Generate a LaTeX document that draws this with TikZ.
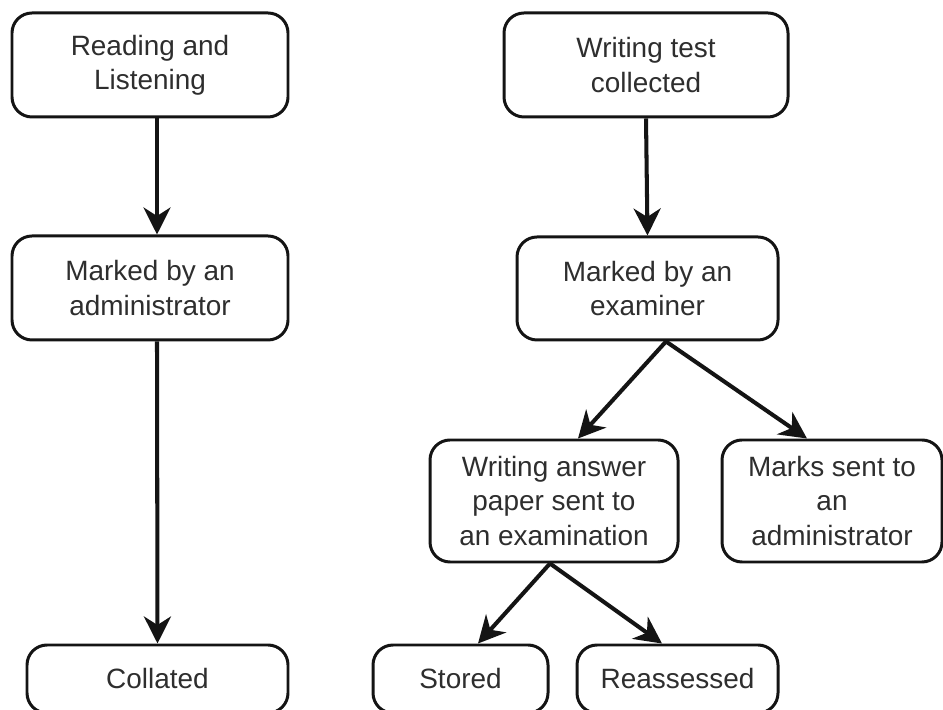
\documentclass[tikz,border=0pt]{standalone}
\usepackage{fontspec}
\setmainfont{Liberation Sans}
\usetikzlibrary{arrows.meta}
\definecolor{ink}{HTML}{141414}
\definecolor{label}{HTML}{2E2E2E}

\begin{document}
\begin{tikzpicture}[font=\fontsize{15.9}{19.4}\selectfont,
  box/.style={draw=ink,line width=1.7pt,rounded corners=0.4cm,fill=white,
    align=center,text=label,inner sep=0pt},
  flow/.style={draw=ink,line width=2.3pt,
    -{Stealth[length=0.54cm,width=0.54cm,inset=0.17cm]}}]

  % page
  \clip (0,0) rectangle (18.86,14.18);
  \fill[white] (0,0) rectangle (18.86,14.18);

  % reading and listening
  \node[box,minimum width=5.52cm,minimum height=2.08cm] (rl) at (3.00,12.88)
    {Reading and\\Listening};
  \node[box,minimum width=5.52cm,minimum height=2.08cm] (admin) at (3.00,8.42)
    {Marked by an\\administrator};
  \node[box,minimum width=5.22cm,minimum height=1.36cm] (coll) at (3.15,0.60)
    {Collated};

  % writing
  \node[box,minimum width=5.68cm,minimum height=2.08cm] (wt) at (12.92,12.88)
    {Writing test\\collected};
  \node[box,minimum width=5.22cm,minimum height=2.06cm] (exam) at (12.95,8.41)
    {Marked by an\\examiner};
  \node[box,minimum width=4.96cm,minimum height=2.44cm] (paper) at (11.08,4.16)
    {Writing answer\\paper sent to\\an examination};
  \node[box,minimum width=4.40cm,minimum height=2.44cm] (marks) at (16.64,4.16)
    {Marks sent to\\an\\administrator};
  \node[box,minimum width=3.50cm,minimum height=1.36cm] (stored) at (9.21,0.60)
    {Stored};
  \node[box,minimum width=4.02cm,minimum height=1.36cm] (reass) at (13.55,0.60)
    {Reassessed};

  % arrows
  \draw[flow] ([xshift=0.14cm]rl.south) -- ([xshift=0.14cm]admin.north);
  \draw[flow] ([xshift=0.14cm]admin.south) -- (coll.north);
  \draw[flow] (wt.south) -- (exam.north);
  \draw[flow] ([xshift=0.37cm]exam.south) -- ([xshift=0.48cm]paper.north);
  \draw[flow] ([xshift=0.37cm]exam.south) -- ([xshift=-0.50cm]marks.north);
  \draw[flow] ([xshift=-0.08cm]paper.south) -- ([xshift=0.35cm]stored.north);
  \draw[flow] ([xshift=-0.08cm]paper.south) -- ([xshift=-0.31cm]reass.north);

\end{tikzpicture}
\end{document}
